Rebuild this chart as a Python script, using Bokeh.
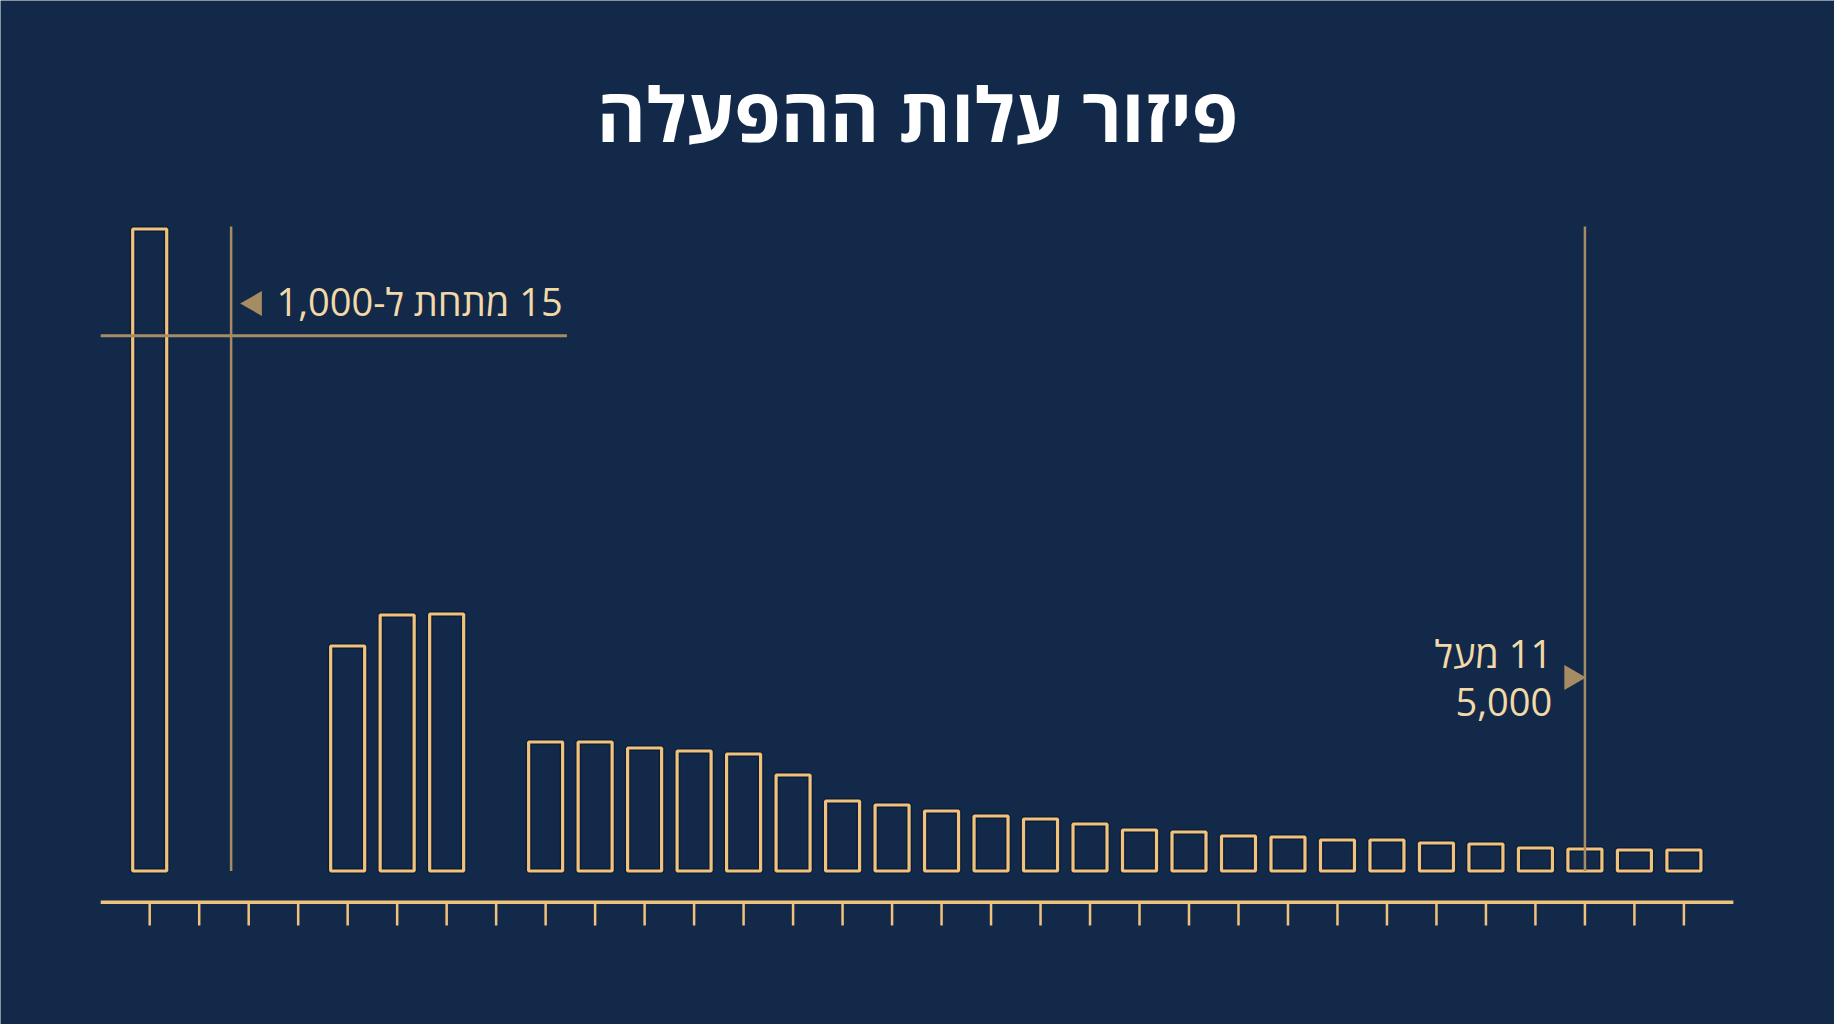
import math
from bokeh.plotting import figure
from bokeh.models import Range1d, ColumnDataSource
from bokeh.core.properties import value
from bokeh.embed import file_html
from bokeh.resources import INLINE

# ---- data ----
title_text = "פיזור עלות ההפעלה"
# bin index of each bar (bins 1, 2, 3 and 7 are empty)
bar_bins = [0, 4, 5, 6, 8, 9, 10, 11, 12, 13, 14, 15, 16, 17, 18, 19, 20,
            21, 22, 23, 24, 25, 26, 27, 28, 29, 30, 31]
# relative bar heights
bar_heights = [642, 225, 256, 257, 129, 129, 123, 120, 117, 96, 70, 66, 60,
               55, 52, 47, 41, 39, 35, 34, 31, 31, 28, 27, 23, 22, 21, 21]
tick_bins = list(range(32))
axis_extent = [-0.99, 32.0]

# annotations
low_label = "\u202B15 מתחת ל-1,000\u202C"
high_label_1 = "\u202B11 מעל\u202C"
high_label_2 = "5,000"
low_marker_x = 1.645      # vertical line right of the first bar
high_marker_x = 29        # vertical line at bin 29
marker_top = 644.5
cut_level = 535.2         # horizontal line across the first bar
cut_extent = [-0.99, 8.43]

BG = "#13294a"
GOLD = "#f0c27c"
MUTED = "#a68c62"
LABEL = "#f2d9a8"

W, H = 1834, 1024
p = figure(width=W, height=H, output_backend="svg", toolbar_location=None,
           x_range=Range1d(-3.015, 34.043), y_range=Range1d(-153.5, 870.5),
           x_axis_type=None, y_axis_type=None,
           min_border=0, min_border_left=0, min_border_right=0,
           min_border_top=0, min_border_bottom=0)
p.background_fill_color = BG
p.border_fill_color = BG
p.outline_line_color = None
p.grid.visible = False

src = ColumnDataSource(dict(x=bar_bins, top=bar_heights))
# subtle dark shadow behind the outlined bars
p.vbar(x="x", top="top", bottom=0, width=0.687, source=src,
       fill_alpha=0, line_color="#08142a", line_alpha=0.55, line_width=6)
p.vbar(x="x", top="top", bottom=0, width=0.687, source=src,
       fill_alpha=0, line_color=GOLD, line_width=3.2)

# baseline axis with ticks
axis_y = -31.2
tick_end = -54.5
p.segment(x0=[axis_extent[0]], y0=[axis_y], x1=[axis_extent[1]], y1=[axis_y],
          line_color=GOLD, line_width=3.5)
p.segment(x0=tick_bins, y0=[axis_y] * len(tick_bins), x1=tick_bins,
          y1=[tick_end] * len(tick_bins), line_color=GOLD, line_width=2.5)

# annotation lines
p.segment(x0=[low_marker_x, high_marker_x], y0=[0, 0],
          x1=[low_marker_x, high_marker_x], y1=[marker_top, marker_top],
          line_color=MUTED, line_width=2.5)
p.segment(x0=[cut_extent[0]], y0=[cut_level], x1=[cut_extent[1]], y1=[cut_level],
          line_color=MUTED, line_width=3)

# arrow heads
p.scatter(x=[2.12], y=[567.5], marker="triangle", size=25, angle=math.pi / 2,
          fill_color=MUTED, line_color=None)
p.scatter(x=[28.73], y=[193.5], marker="triangle", size=25, angle=-math.pi / 2,
          fill_color=MUTED, line_color=None)

# labels
p.text(x=[8.345], y=[570.0], text=[low_label], text_align="right",
       text_baseline="alphabetic", text_color=LABEL,
       text_font=value("Open Sans"), text_font_size="38px")
p.text(x=[28.34, 28.34], y=[218.0, 169.5], text=[high_label_1, high_label_2],
       text_align="right", text_baseline="alphabetic", text_color=LABEL,
       text_font=value("Open Sans"), text_font_size="38px")

# title
p.text(x=[15.514], y=[758.0], text=[title_text], text_align="center",
       text_baseline="alphabetic", text_color="#ffffff",
       text_font=value("Open Sans"), text_font_style="bold",
       text_font_size="75px")

open("out.html", "w").write(file_html(p, INLINE))
